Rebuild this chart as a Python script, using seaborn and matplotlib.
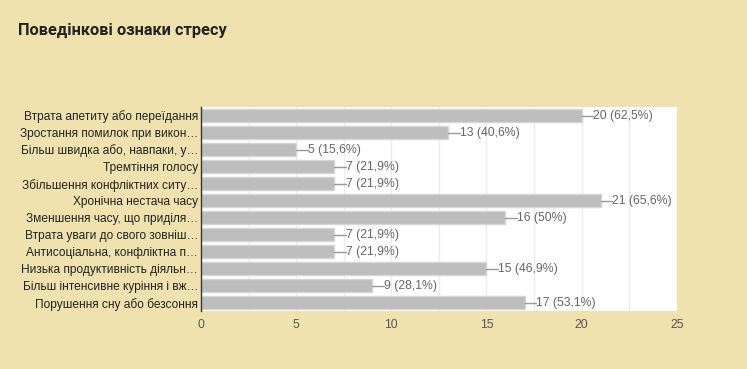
import matplotlib
matplotlib.use("Agg")
import matplotlib.pyplot as plt
import seaborn as sns
import pandas as pd

TITLE = "Поведінкові ознаки стресу"

labels = [
    "Втрата апетиту або переїдання",
    "Зростання помилок при викон…",
    "Більш швидка або, навпаки, у…",
    "Тремтіння голосу",
    "Збільшення конфліктних ситу…",
    "Хронічна нестача часу",
    "Зменшення часу, що приділя…",
    "Втрата уваги до свого зовніш…",
    "Антисоціальна, конфліктна п…",
    "Низька продуктивність діяльн…",
    "Більш інтенсивне куріння і вж…",
    "Порушення сну або безсоння",
]
counts = [20, 13, 5, 7, 7, 21, 16, 7, 7, 15, 9, 17]
percents = ["62,5%", "40,6%", "15,6%", "21,9%", "21,9%", "65,6%",
            "50%", "21,9%", "21,9%", "46,9%", "28,1%", "53,1%"]
x_ticks = [0, 5, 10, 15, 20, 25]

BG = "#F0E2AE"

sns.set_theme(style="white")
plt.rcParams["font.family"] = ["Liberation Sans", "DejaVu Sans"]

df = pd.DataFrame({"label": labels, "count": counts})

fig = plt.figure(figsize=(7.47, 3.69), dpi=100, facecolor=BG)
ax = fig.add_axes([0.269, 0.157, 0.637, 0.553])
ax.set_facecolor("white")

sns.barplot(data=df, x="count", y="label", orient="h", color="#BDBDBD",
            width=0.78, edgecolor="#D6D6D6", linewidth=1, saturation=1, ax=ax)

ax.set_xlim(0, 25)
ax.set_ylim(len(labels) - 0.5, -0.5)
ax.set_xticks(x_ticks)
ax.set_xticks([2.5 + 5 * i for i in range(5)], minor=True)
ax.grid(axis="x", which="both", color="#EBEBEB", linewidth=1)
ax.set_axisbelow(True)
ax.set_xlabel("")
ax.set_ylabel("")

for s in ["top", "right", "bottom"]:
    ax.spines[s].set_visible(False)
ax.spines["left"].set_color("#333333")
ax.spines["left"].set_linewidth(1)

ax.tick_params(axis="x", length=0, labelsize=8.8, labelcolor="#555555", pad=6)
ax.tick_params(axis="y", length=0, labelsize=8.6, labelcolor="#222222", pad=2)

# value labels with short leader line
for i, (c, p) in enumerate(zip(counts, percents)):
    ax.plot([c, c + 0.6], [i, i], color="#999999", linewidth=1, clip_on=False)
    ax.text(c + 0.62, i, f"{c} ({p})", va="center", ha="left",
            fontsize=8.8, color="#666666", clip_on=False)

fig.text(18 / 747, 1 - 30 / 369, TITLE, fontsize=11.8, fontweight="bold",
         color="#222222", va="center", ha="left",
         family=["Roboto", "DejaVu Sans"])

fig.savefig("out.png", dpi=100, facecolor=BG)
